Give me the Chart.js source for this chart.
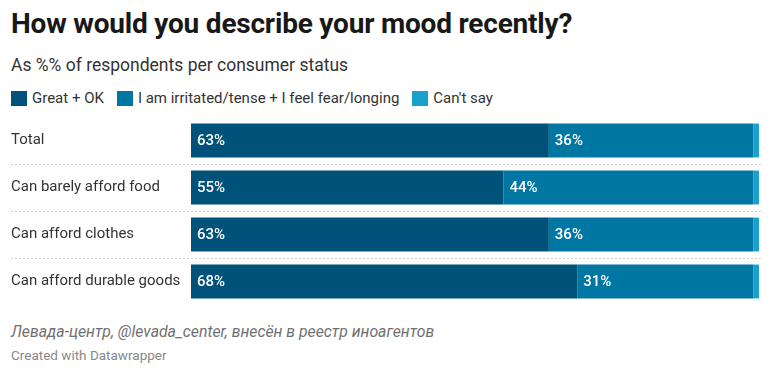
<!DOCTYPE html>
<html>
<head>
<meta charset="utf-8">
<script src="https://cdn.jsdelivr.net/npm/chart.js@4"></script>
<style>
  body { margin: 0; width: 771px; height: 375px; background: #fff; font-family: Roboto, sans-serif; overflow: hidden; }
  #title { position: absolute; left: 11px; top: 7px; font-size: 28px; font-weight: 700; color: #181818; letter-spacing: -0.2px; white-space: nowrap; }
  #sub { position: absolute; left: 11px; top: 55px; font-size: 17.5px; color: #333; white-space: nowrap; }
  #legend { position: absolute; left: 11px; top: 89px; font-size: 15px; color: #333; display: flex; white-space: nowrap; }
  #legend span.item { display: flex; align-items: center; margin-right: 13px; }
  #legend span.sw { display: inline-block; width: 16px; height: 15px; margin-right: 5px; }
  #wrap { position: absolute; left: 0; top: 108px; width: 771px; height: 206px; }
  #src { position: absolute; left: 11px; top: 322px; font-size: 15.8px; font-style: italic; color: #707070; white-space: nowrap; }
  #credit { position: absolute; left: 11px; top: 347px; font-size: 13.5px; color: #888; white-space: nowrap; }
</style>
</head>
<body>
<div id="title">How would you describe your mood recently?</div>
<div id="sub">As %% of respondents per consumer status</div>
<div id="legend"></div>
<div id="wrap"><canvas id="chart"></canvas></div>
<div id="src">Левада-центр, @levada_center, внесён в реестр иноагентов</div>
<div id="credit">Created with Datawrapper</div>
<script>
const categories = ['Total', 'Can barely afford food', 'Can afford clothes', 'Can afford durable goods'];
const seriesNames = ['Great + OK', 'I am irritated/tense + I feel fear/longing', "Can't say"];
const greatOk = [63, 55, 63, 68];
const irritated = [36, 44, 36, 31];
const cantSay = [1, 1, 1, 1];
const colors = ['#00527a', '#0077a3', '#18a1cd'];

const legend = document.getElementById('legend');
seriesNames.forEach((name, i) => {
  const item = document.createElement('span');
  item.className = 'item';
  item.innerHTML = `<span class="sw" style="background:${colors[i]}"></span>${name}`;
  legend.appendChild(item);
});

// white value labels at the start of each segment
const barLabels = {
  id: 'barLabels',
  afterDatasetsDraw(chart) {
    const ctx = chart.ctx;
    ctx.save();
    ctx.fillStyle = '#fff';
    ctx.font = '500 15px Roboto';
    ctx.textBaseline = 'middle';
    chart.data.datasets.forEach((ds, i) => {
      chart.getDatasetMeta(i).data.forEach((bar, j) => {
        if (ds.data[j] < 5) return;
        ctx.fillText(ds.data[j] + '%', Math.min(bar.base, bar.x) + 6, bar.y + 1);
      });
    });
    ctx.restore();
  }
};

// dotted separators between rows
const rowLines = {
  id: 'rowLines',
  beforeDatasetsDraw(chart) {
    const ctx = chart.ctx;
    const y = chart.scales.y;
    ctx.save();
    ctx.strokeStyle = '#d0d0d0';
    ctx.lineWidth = 1;
    ctx.setLineDash([2, 2]);
    for (let i = 0; i < categories.length - 1; i++) {
      const py = Math.round((y.getPixelForValue(i) + y.getPixelForValue(i + 1)) / 2) + 0.5;
      ctx.beginPath();
      ctx.moveTo(11, py);
      ctx.lineTo(chart.chartArea.right + 2, py);
      ctx.stroke();
    }
    ctx.restore();
  }
};

new Chart(document.getElementById('chart'), {
  type: 'bar',
  data: {
    labels: categories,
    datasets: [
      { label: seriesNames[0], data: greatOk, backgroundColor: colors[0] },
      { label: seriesNames[1], data: irritated, backgroundColor: colors[1] },
      { label: seriesNames[2], data: cantSay, backgroundColor: colors[2] }
    ]
  },
  options: {
    indexAxis: 'y',
    responsive: true,
    maintainAspectRatio: false,
    animation: false,
    layout: { padding: { left: 11, right: 12, top: 0, bottom: 0 } },
    datasets: { bar: { categoryPercentage: 1, barPercentage: 0.72 } },
    plugins: { legend: { display: false }, tooltip: { enabled: false } },
    scales: {
      x: { stacked: true, min: 0, max: 100, display: false },
      y: {
        stacked: true,
        grid: { display: false },
        border: { display: false },
        ticks: { crossAlign: 'far', color: '#333', font: { family: 'Roboto', size: 15 }, padding: 0 },
        afterFit(scale) { scale.width = 180; }
      }
    }
  },
  plugins: [rowLines, barLabels]
});
</script>
</body>
</html>
